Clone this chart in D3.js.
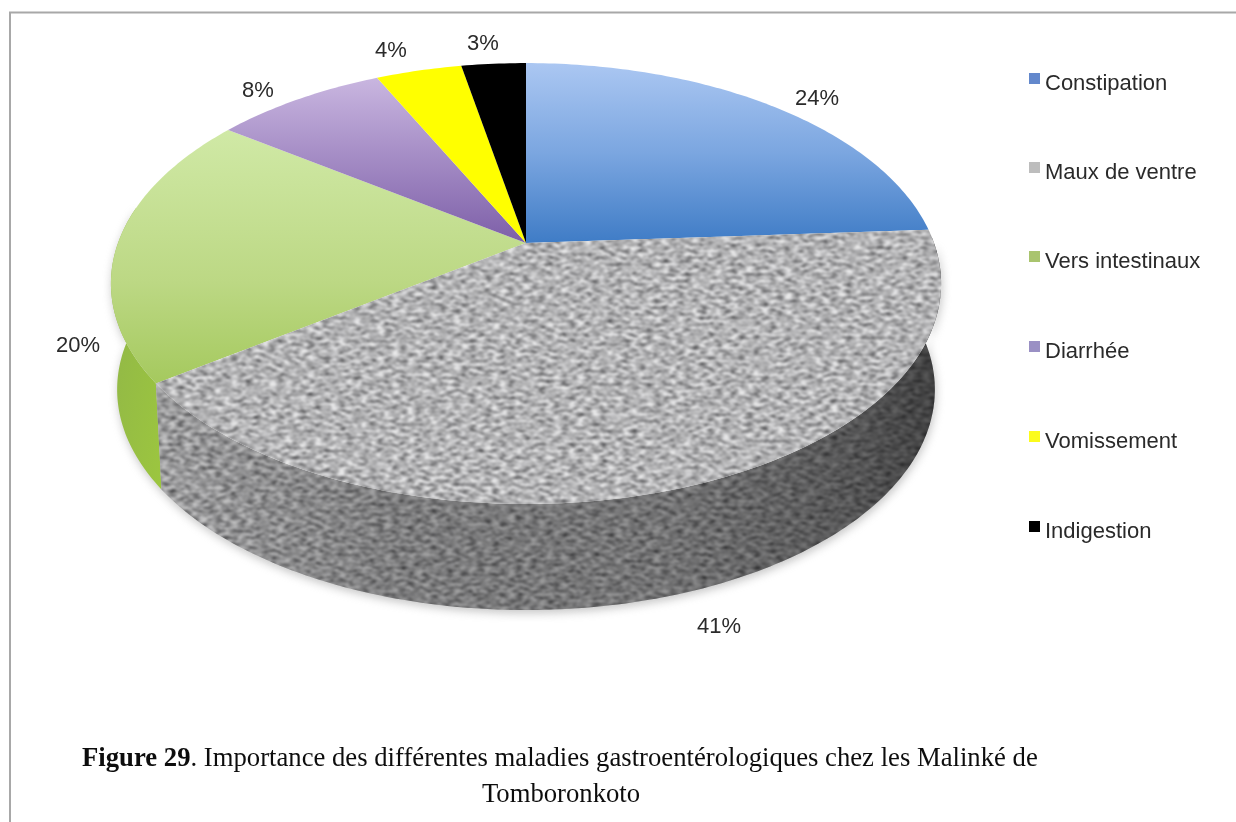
<!DOCTYPE html>
<html><head><meta charset="utf-8">
<script src="https://cdn.jsdelivr.net/npm/d3@7/dist/d3.min.js"></script>
<style>html,body{margin:0;padding:0;background:#fff}svg{display:block}</style>
</head><body><svg id="c" width="1236" height="822"></svg>
<script>
const categories = ["Constipation","Maux de ventre","Vers intestinaux","Diarrhée","Vomissement","Indigestion"];
const values = [24,41,20,8,4,3];
const sliceLabels = ["24%","41%","20%","8%","4%","3%"];
const labelX = [817,719,78,258,391,483];
const labelY = [97,625,344,89,49,42];
const legendY = [82,171,260,350,440,530];
const captionLines = ["Importance des différentes maladies gastroentérologiques chez les Malinké de","Tomboronkoto"];

const cx=526,cy=243,X=408,Yv=213,k=0.184,depth=106,squeeze=0.985;
const svg=d3.select("#c");
const defs=svg.append("defs");
function grad(id,stops,x1=0,y1=0,x2=0,y2=1){
  const g=defs.append("linearGradient").attr("id",id).attr("x1",x1).attr("y1",y1).attr("x2",x2).attr("y2",y2);
  stops.forEach(s=>g.append("stop").attr("offset",s[0]).attr("stop-color",s[1]).attr("stop-opacity",s[2]===undefined?1:s[2]));
}
grad("gBlue",[[0,"#abc7f2"],[0.5,"#7ba6e0"],[1,"#3f7cc6"]]);
grad("gGreen",[[0,"#d0e9a6"],[0.6,"#bcd884"],[1,"#a5c95e"]]);
grad("gPurple",[[0,"#c9b6e0"],[1,"#7d5fa8"]]);
grad("gGreenSide",[[0,"#8fb449"],[1,"#9cc63f"]],0,0,1,1);
grad("gSide",[[0,"#000",0.12],[0.3,"#000",0.30],[0.65,"#000",0.36],[0.88,"#000",0.52],[1,"#000",0.66]],0,0,1,0);
const fl=defs.append("filter").attr("id","granite").attr("x",0).attr("y",0).attr("width",1).attr("height",1).attr("color-interpolation-filters","sRGB");
fl.append("feTurbulence").attr("type","fractalNoise").attr("baseFrequency","0.13 0.30").attr("numOctaves",2).attr("seed",7);
fl.append("feColorMatrix").attr("type","matrix").attr("values","1.6 0 0 0 -0.16  1.6 0 0 0 -0.16  1.6 0 0 0 -0.15  0 0 0 0 1");
const ct=fl.append("feComponentTransfer");
["feFuncR","feFuncG","feFuncB"].forEach(n=>ct.append(n).attr("type","table").attr("tableValues","0.2 0.36 0.5 0.62 0.72 0.82 0.92"));
fl.append("feGaussianBlur").attr("stdDeviation",0.8);
defs.append("filter").attr("id","soft").append("feGaussianBlur").attr("stdDeviation",5);
defs.append("filter").attr("id","txt").append("feGaussianBlur").attr("stdDeviation",0.4);

// perspective projection of the unit disc, fed by angles from d3.pie
const proj=t=>{const u=Math.sin(t),v=-Math.cos(t),w=1-k*v;return [cx+X*u/w,cy+Yv*v/w];};
const arcs=d3.pie().sort(null)(values);
const rim=(a,b)=>{const n=Math.max(2,Math.ceil((b-a)*60));return d3.range(n+1).map(i=>proj(a+(b-a)*i/n));};
const line=d3.line();
const topPath=d=>line([[cx,cy],...rim(d.startAngle,d.endAngle)])+"Z";
const sidePath=(a,b)=>{const r=rim(a,b);return line([...r,...r.slice().reverse().map(p=>[cx+(p[0]-cx)*squeeze,p[1]+depth])])+"Z";};

// border
svg.append("path").attr("d","M10,822V12.5H1236").attr("fill","none").attr("stroke","#a8a8a8").attr("stroke-width",2);

const a1=arcs[1],a2=arcs[2];
// soft shadow beneath the disc
svg.append("path").attr("d",sidePath(Math.PI/2,a2.startAngle+0.8)).attr("fill","#888").attr("filter","url(#soft)").attr("opacity",0.5).attr("transform","translate(1,3)");

// sides
svg.append("path").attr("d",sidePath(a2.startAngle,a2.startAngle+0.8)).attr("fill","url(#gGreenSide)");
defs.append("clipPath").attr("id","cSide").append("path").attr("d",sidePath(Math.PI/2-0.03,a1.endAngle));
defs.append("clipPath").attr("id","cTop").append("path").attr("d",topPath(a1));
const gs=svg.append("g").attr("clip-path","url(#cSide)");
gs.append("rect").attr("x",100).attr("y",220).attr("width",860).attr("height",420).attr("filter","url(#granite)");
gs.append("rect").attr("x",150).attr("y",220).attr("width",800).attr("height",420).attr("fill","url(#gSide)");

// top faces
const fills=["url(#gBlue)",null,"url(#gGreen)","url(#gPurple)","#ffff00","#000000"];
arcs.forEach((d,i)=>{ if(i!==1) svg.append("path").attr("d",topPath(d)).attr("fill",fills[i]); });
const gt=svg.append("g").attr("clip-path","url(#cTop)");
gt.append("rect").attr("x",100).attr("y",220).attr("width",860).attr("height",300).attr("filter","url(#granite)");

// labels
const t=svg.append("g").attr("filter","url(#txt)").attr("font-family","'Liberation Sans',Arial,sans-serif").attr("fill","#2a2a2a").attr("font-size",22);
t.selectAll(".pl").data(sliceLabels).join("text").attr("x",(d,i)=>labelX[i]).attr("y",(d,i)=>labelY[i]+8).attr("text-anchor","middle").text(d=>d);
t.selectAll(".ll").data(categories).join("text").attr("x",1045).attr("y",(d,i)=>legendY[i]+7.5).text(d=>d);
const swatch=["#6488cc","#bdbdbd","#a9c46e","#9a90c4","#fbfb1e","#000"];
svg.append("g").attr("filter","url(#txt)").selectAll("rect").data(categories).join("rect").attr("x",1029).attr("y",(d,i)=>legendY[i]-9).attr("width",11).attr("height",11).attr("fill",(d,i)=>swatch[i]);

const c=svg.append("g").attr("filter","url(#txt)").attr("font-family","'Liberation Serif','Times New Roman',serif").attr("fill","#111").attr("font-size",26.7);
const l1=c.append("text").attr("x",82).attr("y",766);
l1.append("tspan").attr("font-weight","bold").text("Figure 29");
l1.append("tspan").text(". "+captionLines[0]);
c.append("text").attr("x",561).attr("y",802).attr("text-anchor","middle").text(captionLines[1]);
</script></body></html>
